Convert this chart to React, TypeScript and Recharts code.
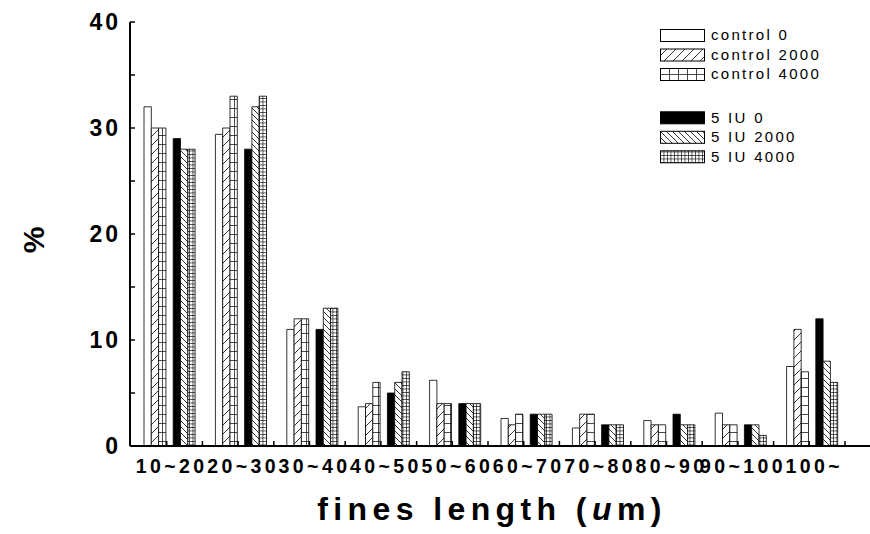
import { BarChart, Bar, XAxis, YAxis, Legend } from "recharts";

// fines length distribution, control vs 5 IU enzyme at three dosages
const categories = ["10~20", "20~30", "30~40", "40~50", "50~60", "60~70", "70~80", "80~90", "90~100", "100~"];
const control0 = [32, 29.4, 11, 3.7, 6.2, 2.6, 1.7, 2.4, 3.1, 7.5];
const control2000 = [30, 30, 12, 4, 4, 2, 3, 2, 2, 11];
const control4000 = [30, 33, 12, 6, 4, 3, 3, 2, 2, 7];
const iu0 = [29, 28, 11, 5, 4, 3, 2, 3, 2, 12];
const iu2000 = [28, 32, 13, 6, 4, 3, 2, 2, 2, 8];
const iu4000 = [28, 33, 13, 7, 4, 3, 2, 2, 1, 6];
const yTicks = [0, 5, 10, 15, 20, 25, 30, 35, 40];

const series = [
  { key: "c0", name: "control 0", fill: "#fff" },
  { key: "c2000", name: "control 2000", fill: "url(#hatchFwd)" },
  { key: "c4000", name: "control 4000", fill: "url(#gridWide)" },
  { key: "u0", name: "5 IU 0", fill: "#000" },
  { key: "u2000", name: "5 IU 2000", fill: "url(#hatchBack)" },
  { key: "u4000", name: "5 IU 4000", fill: "url(#gridFine)" },
];

const data = categories.map((cat, i) => ({
  cat,
  c0: control0[i],
  c2000: control2000[i],
  c4000: control4000[i],
  gap: null,
  u0: iu0[i],
  u2000: iu2000[i],
  u4000: iu4000[i],
}));

const FONT = "'Liberation Sans', Arial, Helvetica, sans-serif";

function Patterns() {
  return (
    <defs>
      <pattern id="hatchFwd" patternUnits="userSpaceOnUse" width={9} height={9}>
        <rect width={9} height={9} fill="#fff" />
        <path d="M0,9 L9,0 M-2,2 L2,-2 M7,11 L11,7" stroke="#000" strokeWidth={0.8} />
      </pattern>
      <pattern id="gridWide" patternUnits="userSpaceOnUse" width={9} height={9}>
        <rect width={9} height={9} fill="#fff" />
        <path d="M0,0.4 H9 M0.4,0 V9" stroke="#000" strokeWidth={0.8} />
      </pattern>
      <pattern id="hatchBack" patternUnits="userSpaceOnUse" width={6} height={6}>
        <rect width={6} height={6} fill="#fff" />
        <path d="M0,0 L6,6 M-1,5 L1,7 M5,-1 L7,1" stroke="#000" strokeWidth={0.8} />
      </pattern>
      <pattern id="gridFine" patternUnits="userSpaceOnUse" width={3.5} height={3.5}>
        <rect width={3.5} height={3.5} fill="#fff" />
        <path d="M0,0.35 H3.5 M0.35,0 V3.5" stroke="#000" strokeWidth={0.7} />
      </pattern>
    </defs>
  );
}

// left axis: inward ticks, labels only on the tens
function YTick(props: any) {
  const { x, y, payload } = props;
  const major = payload.value % 10 === 0;
  return (
    <g>
      <line x1={x} y1={y} x2={x + 5} y2={y} stroke="#000" strokeWidth={1.5} />
      {major && (
        <text x={x - 9} y={y + 8} textAnchor="end" fontFamily={FONT} fontWeight="bold" fontSize={23} letterSpacing={3} fill="#000">
          {payload.value}
        </text>
      )}
    </g>
  );
}

// bottom axis: two inward ticks per category and the category label
function XTick(props: any) {
  const { x, y, payload } = props;
  const half = payload.offset || 35.7;
  return (
    <g>
      <line x1={x - 3} y1={y} x2={x - 3} y2={y - 5} stroke="#000" strokeWidth={1.5} />
      <line x1={x - 3 + half} y1={y} x2={x - 3 + half} y2={y - 5} stroke="#000" strokeWidth={1.5} />
      <text x={x + 2} y={y + 27} textAnchor="middle" fontFamily={FONT} fontWeight="bold" fontSize={19.5} letterSpacing={3.4} fill="#000">
        {payload.value}
      </text>
    </g>
  );
}

function TopTick(props: any) {
  const { x, y, payload } = props;
  const half = payload.offset || 35.7;
  return (
    <g>
      <line x1={x - 3} y1={y} x2={x - 3} y2={y + 5} stroke="#000" strokeWidth={1.5} />
      <line x1={x - 3 + half} y1={y} x2={x - 3 + half} y2={y + 5} stroke="#000" strokeWidth={1.5} />
    </g>
  );
}

// legend in series order, control block then enzyme block
function LegendBox(props: any) {
  const shown = new Set((props.payload || []).map((p: any) => p.dataKey));
  const items = series.filter((s) => shown.has(s.key));
  return (
    <svg width={200} height={140} style={{ display: "block", overflow: "visible" }}>
      {items.map((s, i) => {
        const top = i < 3 ? i * 19.5 : 82.3 + (i - 3) * 19.5;
        return (
          <g key={s.key}>
            <rect x={0.5} y={top + 0.5} width={44} height={12} fill={s.fill} stroke="#000" strokeWidth={1} />
            <text x={51} y={top + 11.4} fontFamily={FONT} fontSize={15} letterSpacing={2.3} fill="#000">
              {s.name}
            </text>
          </g>
        );
      })}
    </svg>
  );
}

export default function App() {
  return (
    <div style={{ position: "absolute", left: 0, top: 0, width: 870, height: 534, overflow: "hidden", background: "#fff" }}>
      <BarChart
        width={900}
        height={534}
        data={data}
        margin={{ top: 22, right: 20, bottom: 58, left: 70 }}
        barGap={0}
        barSize={7.3}
      >
        <Patterns />
        <XAxis
          dataKey="cat"
          interval={0}
          tickSize={0}
          tickMargin={0}
          height={30}
          padding={{ left: 4, right: 32 }}
          axisLine={{ stroke: "#000", strokeWidth: 2 }}
          tickLine={false}
          tick={<XTick />}
          label={{
            content: (lp: any) => {
              const vb = lp.viewBox;
              return (
                <text x={vb.x + 362} y={vb.y + 74} textAnchor="middle" fontFamily={FONT} fontWeight="bold" fontSize={32} letterSpacing={5.4} fill="#000">
                  fines length (<tspan fontStyle="italic">u</tspan>m)
                </text>
              );
            },
          }}
        />
        <XAxis
          xAxisId="top"
          dataKey="cat"
          orientation="top"
          interval={0}
          tickSize={0}
          tickMargin={0}
          height={0}
          padding={{ left: 4, right: 32 }}
          axisLine={{ stroke: "#000", strokeWidth: 2 }}
          tickLine={false}
          tick={<TopTick />}
        />
        <YAxis
          domain={[0, 40]}
          ticks={yTicks}
          interval={0}
          width={60}
          tickSize={0}
          tickMargin={0}
          axisLine={{ stroke: "#000", strokeWidth: 2 }}
          tickLine={false}
          tick={<YTick />}
          label={{
            content: (lp: any) => {
              const vb = lp.viewBox;
              const cx = vb.x - 37;
              const cy = vb.y + vb.height / 2 + 6;
              return (
                <text x={cx} y={cy} transform={`rotate(-90 ${cx} ${cy})`} textAnchor="middle" dominantBaseline="central" fontFamily={FONT} fontWeight="bold" fontSize={30} fill="#000">
                  %
                </text>
              );
            },
          }}
        />
        <Legend
          layout="vertical"
          align="center"
          verticalAlign="middle"
          content={<LegendBox />}
          wrapperStyle={{ position: "absolute", left: 660, top: 29, width: 200, height: 140 }}
        />
        <Bar dataKey="c0" name="control 0" fill="#fff" stroke="#000" strokeWidth={0.8} isAnimationActive={false} />
        <Bar dataKey="c2000" name="control 2000" fill="url(#hatchFwd)" stroke="#000" strokeWidth={0.8} isAnimationActive={false} />
        <Bar dataKey="c4000" name="control 4000" fill="url(#gridWide)" stroke="#000" strokeWidth={0.8} isAnimationActive={false} />
        <Bar dataKey="gap" fill="none" legendType="none" isAnimationActive={false} />
        <Bar dataKey="u0" name="5 IU 0" fill="#000" stroke="#000" strokeWidth={0.8} isAnimationActive={false} />
        <Bar dataKey="u2000" name="5 IU 2000" fill="url(#hatchBack)" stroke="#000" strokeWidth={0.8} isAnimationActive={false} />
        <Bar dataKey="u4000" name="5 IU 4000" fill="url(#gridFine)" stroke="#000" strokeWidth={0.8} isAnimationActive={false} />
      </BarChart>
    </div>
  );
}
